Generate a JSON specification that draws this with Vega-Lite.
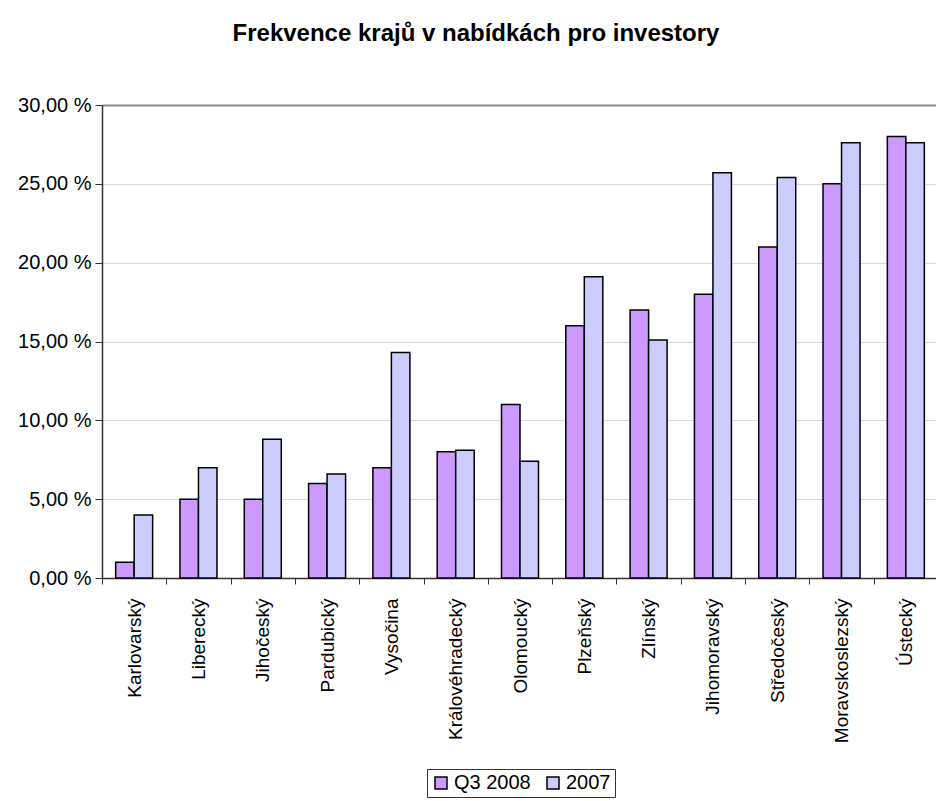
{
  "$schema": "https://vega.github.io/schema/vega-lite/v6.json",
  "width": 836,
  "height": 473,
  "autosize": {"type": "none"},
  "padding": {"left": 102, "top": 105, "right": 0, "bottom": 223},
  "background": "white",
  "config": {"view": {"stroke": null}, "font": "Liberation Sans"},
  "title": {
    "text": "Frekvence krajů v nabídkách pro investory",
    "font": "Liberation Sans",
    "fontSize": 24,
    "fontWeight": "bold",
    "color": "black",
    "anchor": "middle",
    "frame": "group",
    "dx": -44,
    "baseline": "alphabetic",
    "offset": 30
  },
  "data": {
    "values": [
      {"kraj": "Karlovarský", "serie": "Q3 2008", "hodnota": 1},
      {"kraj": "Karlovarský", "serie": "2007", "hodnota": 4},
      {"kraj": "Liberecký", "serie": "Q3 2008", "hodnota": 5},
      {"kraj": "Liberecký", "serie": "2007", "hodnota": 7},
      {"kraj": "Jihočeský", "serie": "Q3 2008", "hodnota": 5},
      {"kraj": "Jihočeský", "serie": "2007", "hodnota": 8.8},
      {"kraj": "Pardubický", "serie": "Q3 2008", "hodnota": 6},
      {"kraj": "Pardubický", "serie": "2007", "hodnota": 6.6},
      {"kraj": "Vysočina", "serie": "Q3 2008", "hodnota": 7},
      {"kraj": "Vysočina", "serie": "2007", "hodnota": 14.3},
      {"kraj": "Královéhradecký", "serie": "Q3 2008", "hodnota": 8},
      {"kraj": "Královéhradecký", "serie": "2007", "hodnota": 8.1},
      {"kraj": "Olomoucký", "serie": "Q3 2008", "hodnota": 11},
      {"kraj": "Olomoucký", "serie": "2007", "hodnota": 7.4},
      {"kraj": "Plzeňský", "serie": "Q3 2008", "hodnota": 16},
      {"kraj": "Plzeňský", "serie": "2007", "hodnota": 19.1},
      {"kraj": "Zlínský", "serie": "Q3 2008", "hodnota": 17},
      {"kraj": "Zlínský", "serie": "2007", "hodnota": 15.1},
      {"kraj": "Jihomoravský", "serie": "Q3 2008", "hodnota": 18},
      {"kraj": "Jihomoravský", "serie": "2007", "hodnota": 25.7},
      {"kraj": "Středočeský", "serie": "Q3 2008", "hodnota": 21},
      {"kraj": "Středočeský", "serie": "2007", "hodnota": 25.4},
      {"kraj": "Moravskoslezský", "serie": "Q3 2008", "hodnota": 25},
      {"kraj": "Moravskoslezský", "serie": "2007", "hodnota": 27.6},
      {"kraj": "Ústecký", "serie": "Q3 2008", "hodnota": 28},
      {"kraj": "Ústecký", "serie": "2007", "hodnota": 27.6}
    ]
  },
  "mark": {"type": "bar", "stroke": "black", "strokeWidth": 1.5},
  "encoding": {
    "x": {
      "field": "kraj",
      "type": "nominal",
      "sort": null,
      "scale": {"paddingInner": 0, "paddingOuter": 0},
      "axis": {
        "title": null,
        "labelAngle": -90,
        "tickBand": "extent",
        "labelFont": "Liberation Sans",
        "labelFontSize": 19,
        "labelColor": "black",
        "labelPadding": 14,
        "tickSize": 6,
        "tickColor": "#333",
        "domainColor": "#333",
        "domainWidth": 1.5,
        "tickWidth": 1
      }
    },
    "y": {
      "field": "hodnota",
      "type": "quantitative",
      "scale": {"domain": [0, 30], "nice": false},
      "axis": {
        "title": null,
        "values": [0, 5, 10, 15, 20, 25, 30],
        "labelExpr": "replace(format(datum.value, '.2f'), '.', ',') + ' %'",
        "labelFont": "Liberation Sans",
        "labelFontSize": 20,
        "labelColor": "black",
        "labelPadding": 4,
        "tickSize": 7,
        "tickColor": "#333",
        "domainColor": "#333",
        "domainWidth": 1.5,
        "gridColor": {"condition": {"test": "datum.value === 30", "value": "#8c8c8c"}, "value": "#d9d9d9"},
        "gridWidth": {"condition": {"test": "datum.value === 30", "value": 2}, "value": 1}
      }
    },
    "xOffset": {
      "field": "serie",
      "sort": ["Q3 2008", "2007"],
      "scale": {"paddingInner": 0, "paddingOuter": 0.738}
    },
    "color": {
      "field": "serie",
      "type": "nominal",
      "scale": {"domain": ["Q3 2008", "2007"], "range": ["#CC99FF", "#CCCCFF"]},
      "legend": {
        "title": null,
        "orient": "none",
        "legendX": 325,
        "legendY": 664,
        "direction": "horizontal",
        "strokeColor": "#333",
        "fillColor": "white",
        "padding": 4,
        "symbolType": "square",
        "symbolSize": 144,
        "symbolStrokeColor": "black",
        "symbolStrokeWidth": 1.5,
        "symbolOpacity": 1,
        "labelFont": "Liberation Sans",
        "labelFontSize": 20,
        "labelColor": "black",
        "labelOffset": 3,
        "columnPadding": 12
      }
    }
  }
}
